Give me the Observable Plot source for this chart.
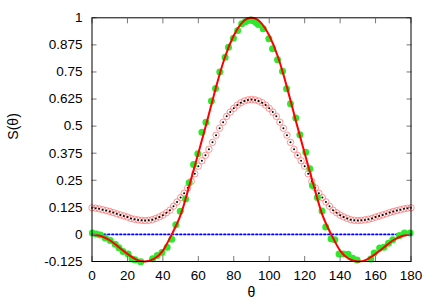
<!DOCTYPE html>
<html>
<head>
<meta charset="utf-8">
<script src="https://cdn.jsdelivr.net/npm/d3@7"></script>
<script src="https://cdn.jsdelivr.net/npm/@observablehq/plot@0.6"></script>
<style>
  html, body { margin: 0; padding: 0; background: white; }
</style>
</head>
<body>
<div id="chart"></div>
<script>
// Tick values and labels
const xTicks = [0, 20, 40, 60, 80, 100, 120, 140, 160, 180];
const yTicks = [-0.125, 0, 0.125, 0.25, 0.375, 0.5, 0.625, 0.75, 0.875, 1];
const yTickLabels = ["-0.125", "0", "0.125", "0.25", "0.375", "0.5", "0.625", "0.75", "0.875", "1"];

// Red curve (read every 5°)
const curveTheta = [0,5,10,15,20,25,30,35,40,45,50,55,60,65,70,75,80,85,90,95,100,105,110,115,120,125,130,135,140,145,150,155,160,165,170,175,180];
const curveS = [0,-0.007,-0.027,-0.058,-0.090,-0.116,-0.125,-0.113,-0.075,0,0.090,0.228,0.375,0.525,0.680,0.818,0.918,0.980,1.0,0.980,0.918,0.818,0.680,0.525,0.375,0.228,0.090,0,-0.075,-0.113,-0.125,-0.116,-0.090,-0.058,-0.027,-0.007,0];

// Green filled points
const greenTheta = [0.2,2.5,4.7,7.5,10.3,13.1,15.2,17.5,20.4,22.6,24.3,27.5,34.2,36.8,39.5,42.4,45.0,47.3,49.8,52.8,54.8,57.3,59.7,62.0,64.3,67.4,69.7,72.1,75.1,77.0,79.8,82.2,84.5,86.5,88.0,89.5,91.0,92.5,93.8,96.6,99.8,101.9,104.7,107.5,109.8,112.0,115.0,117.3,120.6,122.9,124.4,127.2,129.8,131.9,134.9,137.0,139.4,141.8,144.5,147.1,149.6,157.3,159.2,162.3,164.7,167.3,169.7,173.5,176.3,179.5];
const greenS = [0.006,0.002,-0.003,-0.017,-0.028,-0.045,-0.062,-0.079,-0.090,-0.113,-0.117,-0.126,-0.112,-0.097,-0.083,-0.059,-0.022,0.045,0.107,0.164,0.238,0.323,0.372,0.472,0.518,0.616,0.674,0.750,0.818,0.864,0.906,0.941,0.972,0.982,0.988,0.990,0.986,0.978,0.969,0.949,0.903,0.857,0.806,0.753,0.672,0.603,0.537,0.460,0.379,0.303,0.226,0.170,0.108,0.034,-0.020,-0.025,-0.090,-0.090,-0.092,-0.110,-0.118,-0.113,-0.086,-0.063,-0.059,-0.041,-0.025,-0.005,0.006,0.006];

// Open red circles (every 2°)
const circleTheta = d3.range(0, 181, 2);
const circleS = [0.123,0.121,0.118,0.114,0.110,0.106,0.101,0.095,0.090,0.085,0.080,0.074,0.070,0.067,0.065,0.064,0.065,0.068,0.074,0.081,0.089,0.100,0.112,0.130,0.150,0.170,0.190,0.215,0.245,0.280,0.315,0.340,0.365,0.393,0.425,0.458,0.490,0.518,0.545,0.565,0.582,0.597,0.608,0.616,0.621,0.623,0.621,0.616,0.608,0.597,0.582,0.565,0.545,0.518,0.490,0.458,0.425,0.393,0.365,0.340,0.315,0.280,0.245,0.215,0.190,0.170,0.150,0.130,0.112,0.100,0.089,0.081,0.074,0.068,0.065,0.064,0.065,0.067,0.070,0.074,0.080,0.085,0.090,0.095,0.101,0.106,0.110,0.114,0.118,0.121,0.123];

// Zero reference line
const zeroTheta = [0, 180];
const zeroS = [0, 0];

const curve = curveTheta.map((t, i) => ({t, s: curveS[i]}));
const green = greenTheta.map((t, i) => ({t, s: greenS[i]}));
const circles = circleTheta.map((t, i) => ({t, s: circleS[i]}));
const zero = zeroTheta.map((t, i) => ({t, s: zeroS[i]}));

const tickColor = "#777";

const chart = Plot.plot({
  width: 436,
  height: 305,
  marginLeft: 91.5,
  marginRight: 25.5,
  marginTop: 17.3,
  marginBottom: 44,
  style: {fontFamily: "'Liberation Sans', Arial, sans-serif", fontSize: "13.5px", background: "white", color: "black"},
  x: {domain: [0, 180]},
  y: {domain: [-0.125, 1]},
  marks: [
    Plot.line(zero, {x: "t", y: "s", stroke: "#0000ff", strokeWidth: 1.8, strokeDasharray: "1.6,2.4"}),
    Plot.dot(circles, {x: "t", y: "s", r: 3.2, stroke: "#ff5a5a", strokeWidth: 0.8, strokeOpacity: 0.8, fill: "none"}),
    Plot.dot(circles, {x: "t", y: "s", r: 1, fill: "black", stroke: "none"}),
    Plot.dot(green, {x: "t", y: "s", r: 3.5, fill: "#2ee82e", stroke: "none"}),
    Plot.line(curve, {x: "t", y: "s", stroke: "#ff0000", strokeWidth: 2, curve: "natural"}),
    Plot.axisX(xTicks, {anchor: "bottom", tickSize: -5, tickPadding: 14, stroke: tickColor, label: null, fontSize: 13.5}),
    Plot.axisX(xTicks, {anchor: "top", tickSize: -5, tickFormat: () => "", stroke: tickColor, label: null}),
    Plot.axisY(yTicks, {anchor: "left", tickSize: -5, tickPadding: 14.5, stroke: tickColor, label: null, fontSize: 13.5, tickFormat: (d, i) => yTickLabels[i]}),
    Plot.axisY(yTicks, {anchor: "right", tickSize: -5, tickFormat: () => "", stroke: tickColor, label: null}),
    Plot.frame({stroke: "black", strokeWidth: 1}),
    Plot.text(["θ"], {frameAnchor: "bottom", dy: 35, fontSize: 14, fill: "black"}),
    Plot.text(["S(θ)"], {frameAnchor: "left", dx: -78, rotate: -90, fontSize: 14, fill: "black"})
  ]
});
document.getElementById("chart").appendChild(chart);
</script>
</body>
</html>
